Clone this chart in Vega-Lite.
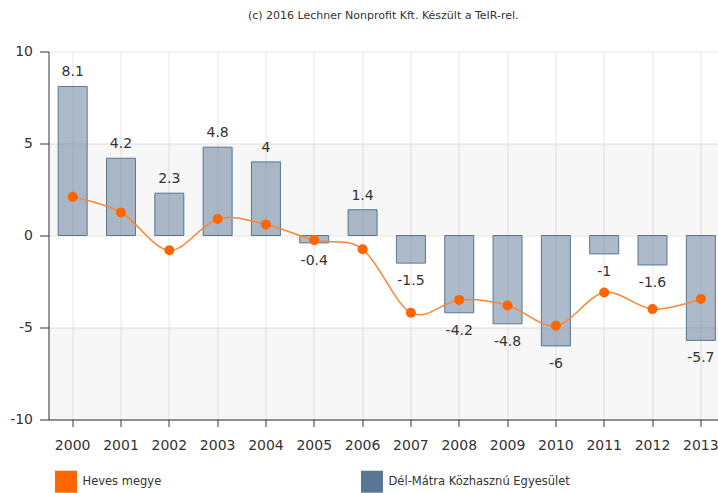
{
  "$schema": "https://vega.github.io/schema/vega-lite/v6.json",
  "autosize": {"type": "none"},
  "width": 669.5,
  "height": 368,
  "padding": {"left": 48.5, "top": 51.5, "right": 0, "bottom": 73.5},
  "background": "white",
  "title": {
    "text": "(c) 2016 Lechner Nonprofit Kft. Készült a TeIR-rel.",
    "font": "DejaVu Sans",
    "fontSize": 11,
    "fontWeight": "normal",
    "color": "#333333",
    "offset": 23.5,
    "anchor": "middle"
  },
  "config": {
    "view": {"stroke": null},
    "font": "DejaVu Sans"
  },
  "datasets": {
    "bars": [
      {"year": "2000", "series": "Dél-Mátra Közhasznú Egyesület", "value": 8.1},
      {"year": "2001", "series": "Dél-Mátra Közhasznú Egyesület", "value": 4.2},
      {"year": "2002", "series": "Dél-Mátra Közhasznú Egyesület", "value": 2.3},
      {"year": "2003", "series": "Dél-Mátra Közhasznú Egyesület", "value": 4.8},
      {"year": "2004", "series": "Dél-Mátra Közhasznú Egyesület", "value": 4},
      {"year": "2005", "series": "Dél-Mátra Közhasznú Egyesület", "value": -0.4},
      {"year": "2006", "series": "Dél-Mátra Közhasznú Egyesület", "value": 1.4},
      {"year": "2007", "series": "Dél-Mátra Közhasznú Egyesület", "value": -1.5},
      {"year": "2008", "series": "Dél-Mátra Közhasznú Egyesület", "value": -4.2},
      {"year": "2009", "series": "Dél-Mátra Közhasznú Egyesület", "value": -4.8},
      {"year": "2010", "series": "Dél-Mátra Közhasznú Egyesület", "value": -6},
      {"year": "2011", "series": "Dél-Mátra Közhasznú Egyesület", "value": -1},
      {"year": "2012", "series": "Dél-Mátra Közhasznú Egyesület", "value": -1.6},
      {"year": "2013", "series": "Dél-Mátra Közhasznú Egyesület", "value": -5.7}
    ],
    "line": [
      {"year": "2000", "series": "Heves megye", "value": 2.1},
      {"year": "2001", "series": "Heves megye", "value": 1.25},
      {"year": "2002", "series": "Heves megye", "value": -0.8},
      {"year": "2003", "series": "Heves megye", "value": 0.9},
      {"year": "2004", "series": "Heves megye", "value": 0.6},
      {"year": "2005", "series": "Heves megye", "value": -0.25},
      {"year": "2006", "series": "Heves megye", "value": -0.75},
      {"year": "2007", "series": "Heves megye", "value": -4.2},
      {"year": "2008", "series": "Heves megye", "value": -3.5},
      {"year": "2009", "series": "Heves megye", "value": -3.8},
      {"year": "2010", "series": "Heves megye", "value": -4.9},
      {"year": "2011", "series": "Heves megye", "value": -3.1},
      {"year": "2012", "series": "Heves megye", "value": -4.0},
      {"year": "2013", "series": "Heves megye", "value": -3.45}
    ],
    "bands": [
      {"from": 5, "to": 0},
      {"from": -5, "to": -10}
    ]
  },
  "layer": [
    {
      "data": {"name": "bands"},
      "mark": {"type": "rect", "color": "#000000", "opacity": 0.03},
      "encoding": {
        "y": {"field": "from", "type": "quantitative", "scale": {"domain": [-10, 10], "nice": false}},
        "y2": {"field": "to"}
      }
    },
    {
      "data": {"name": "bars"},
      "mark": {"type": "bar", "stroke": "#5b7594", "strokeWidth": 1, "fillOpacity": 0.5},
      "encoding": {
        "x": {
          "field": "year",
          "type": "ordinal",
          "scale": {"range": [0, 676.5], "paddingInner": 0.4, "paddingOuter": 0.2},
          "axis": {
            "title": null,
            "labelAngle": 0,
            "bandPosition": 0.5,
            "grid": true,
            "gridColor": "#e6e6e6",
            "domainColor": "#333333",
            "tickColor": "#333333",
            "tickSize": 7,
            "labelPadding": 12,
            "labelFontSize": 14,
            "labelColor": "#333333",
            "labelFont": "DejaVu Sans"
          }
        },
        "y": {
          "field": "value",
          "type": "quantitative",
          "scale": {"domain": [-10, 10], "nice": false},
          "axis": {
            "title": null,
            "values": [-10, -5, 0, 5, 10],
            "labelExpr": "'' + datum.value",
            "grid": true,
            "gridColor": "#e6e6e6",
            "domainColor": "#333333",
            "tickColor": "#333333",
            "tickSize": 9,
            "labelPadding": 7,
            "labelFontSize": 14,
            "labelColor": "#333333",
            "labelFont": "DejaVu Sans"
          }
        },
        "color": {
          "field": "series",
          "type": "nominal",
          "scale": {"domain": ["Heves megye", "Dél-Mátra Közhasznú Egyesület"], "range": ["#ff6600", "#5b7594"]},
          "legend": {
            "title": null,
            "orient": "none",
            "legendX": 6.5,
            "legendY": 419.2,
            "direction": "horizontal",
            "columns": 2,
            "columnPadding": 199,
            "padding": 0,
            "symbolType": "square",
            "symbolSize": 484,
            "symbolStrokeWidth": 0,
            "symbolOpacity": 1,
            "labelOffset": 5.5,
            "labelFontSize": 11.5,
            "labelFont": "DejaVu Sans",
            "labelColor": "#333333",
            "labelLimit": 400,
            "encode": {
              "symbols": {
                "update": {
                  "fillOpacity": {"value": 1},
                  "opacity": {"value": 1},
                  "strokeWidth": {"value": 0}
                }
              }
            }
          }
        }
      }
    },
    {
      "data": {"name": "bars"},
      "transform": [{"filter": "datum.value > 0"}],
      "mark": {"type": "text", "baseline": "alphabetic", "dy": -10, "fontSize": 14, "color": "#333333", "font": "DejaVu Sans"},
      "encoding": {
        "x": {"field": "year", "type": "ordinal"},
        "y": {"field": "value", "type": "quantitative"},
        "text": {"field": "value", "type": "nominal"}
      }
    },
    {
      "data": {"name": "bars"},
      "transform": [{"filter": "datum.value < 0"}],
      "mark": {"type": "text", "baseline": "top", "dy": 11, "fontSize": 14, "color": "#333333", "font": "DejaVu Sans"},
      "encoding": {
        "x": {"field": "year", "type": "ordinal"},
        "y": {"field": "value", "type": "quantitative"},
        "text": {"field": "value", "type": "nominal"}
      }
    },
    {
      "data": {"name": "line"},
      "mark": {"type": "line", "color": "#ff8533", "strokeWidth": 1.5, "interpolate": "cardinal"},
      "encoding": {
        "x": {"field": "year", "type": "ordinal"},
        "y": {"field": "value", "type": "quantitative"}
      }
    },
    {
      "data": {"name": "line"},
      "mark": {"type": "point", "filled": true, "size": 100, "opacity": 1},
      "encoding": {
        "x": {"field": "year", "type": "ordinal"},
        "y": {"field": "value", "type": "quantitative"},
        "color": {"field": "series", "type": "nominal"}
      }
    }
  ]
}
